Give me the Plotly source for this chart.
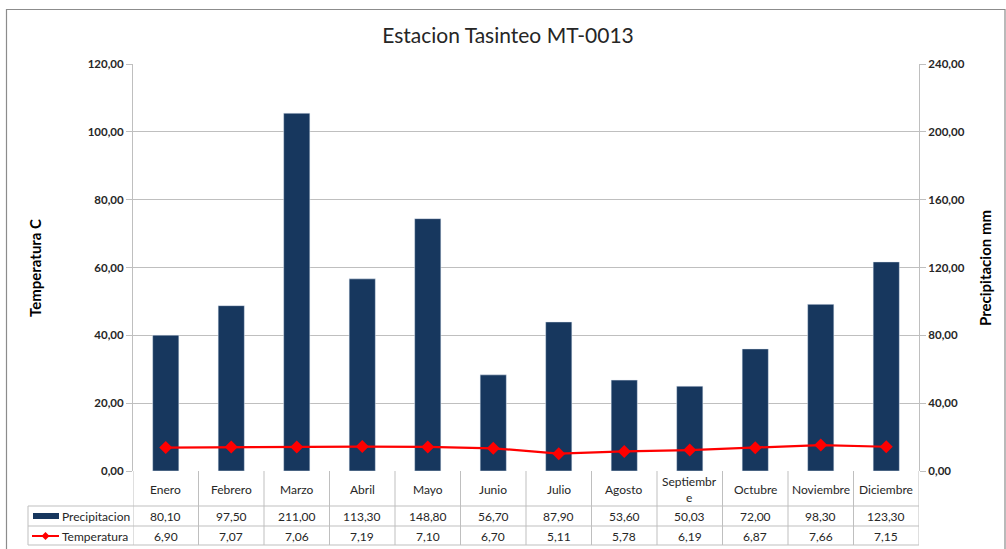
import plotly.graph_objects as go

months = ["Enero", "Febrero", "Marzo", "Abril", "Mayo", "Junio", "Julio",
          "Agosto", "Septiembre", "Octubre", "Noviembre", "Diciembre"]
month_labels = ["Enero", "Febrero", "Marzo", "Abril", "Mayo", "Junio", "Julio",
                "Agosto", "Septiembr<br>e", "Octubre", "Noviembre", "Diciembre"]
precipitacion = [80.10, 97.50, 211.00, 113.30, 148.80, 56.70, 87.90,
                 53.60, 50.03, 72.00, 98.30, 123.30]
temperatura = [6.90, 7.07, 7.06, 7.19, 7.10, 6.70, 5.11, 5.78, 6.19, 6.87, 7.66, 7.15]

W, H = 1006, 549
L, R, T, B = 133, 919, 64, 471
FONT = "Lato"
BAR = "#17375E"
RED = "#FF0000"
GRID = "#BFBFBF"

def px(x):
    return (x - L) / (R - L)

def py(y):
    return (B - y) / (B - T)

def fmt(v):
    return f"{v:.2f}".replace(".", ",")

idx = list(range(len(months)))

fig = go.Figure()
fig.add_trace(go.Bar(x=idx, y=precipitacion, name="Precipitacion", marker_color=BAR,
                     yaxis="y", showlegend=False))
fig.add_trace(go.Scatter(x=idx, y=temperatura, name="Temperatura", mode="lines+markers",
                         line=dict(color=RED, width=2.25),
                         marker=dict(symbol="diamond", size=10, color=RED),
                         yaxis="y2", showlegend=False))

shapes = []
annotations = []

# outer chart border
shapes.append(dict(type="rect", xref="paper", yref="paper", x0=px(6.5), x1=px(1005),
                   y0=py(560), y1=py(9.5), line=dict(color="#8C8C8C", width=1.2),
                   fillcolor="rgba(0,0,0,0)", layer="below"))

# table lines
n = len(months)
for k in range(n + 1):
    shapes.append(dict(type="line", xref="x", yref="paper", x0=k - 0.5, x1=k - 0.5,
                       y0=py(471), y1=py(545), line=dict(color=GRID, width=1)))
for yy in (506, 526, 545):
    shapes.append(dict(type="line", xref="paper", yref="paper", x0=px(28), x1=px(919),
                       y0=py(yy), y1=py(yy), line=dict(color=GRID, width=1)))
shapes.append(dict(type="line", xref="paper", yref="paper", x0=px(28), x1=px(28),
                   y0=py(506), y1=py(545), line=dict(color=GRID, width=1)))

# legend keys inside table
shapes.append(dict(type="rect", xref="paper", yref="paper", x0=px(33), x1=px(59),
                   y0=py(519), y1=py(513), fillcolor=BAR, line=dict(width=0)))
shapes.append(dict(type="line", xref="paper", yref="paper", x0=px(32), x1=px(59),
                   y0=py(536), y1=py(536), line=dict(color=RED, width=2)))
shapes.append(dict(type="path", xref="paper", yref="paper",
                   path=f"M {px(45.5)} {py(532)} L {px(49.5)} {py(536)} L {px(45.5)} {py(540)} L {px(41.5)} {py(536)} Z",
                   fillcolor=RED, line=dict(color=RED, width=0)))

tfont = dict(family=FONT, size=12, color="#262626")
for i in idx:
    annotations.append(dict(x=i, xref="x", y=py(489), yref="paper", text=month_labels[i],
                            showarrow=False, font=tfont, yanchor="middle"))
    annotations.append(dict(x=i, xref="x", y=py(516), yref="paper", text=fmt(precipitacion[i]),
                            showarrow=False, font=tfont, yanchor="middle"))
    annotations.append(dict(x=i, xref="x", y=py(536), yref="paper", text=fmt(temperatura[i]),
                            showarrow=False, font=tfont, yanchor="middle"))

annotations.append(dict(x=px(60), y=py(516), xref="paper", yref="paper", text="Precipitacion",
                        showarrow=False, font=tfont, xanchor="left", yanchor="middle"))
annotations.append(dict(x=px(60), y=py(536), xref="paper", yref="paper", text="Temperatura",
                        showarrow=False, font=tfont, xanchor="left", yanchor="middle"))

# axis titles
annotations.append(dict(x=px(35), y=py(268), xref="paper", yref="paper", text="<b>Temperatura C</b>",
                        textangle=-90, showarrow=False, xanchor="center", yanchor="middle",
                        font=dict(family=FONT, size=15, color="#000000")))
annotations.append(dict(x=px(985), y=py(268), xref="paper", yref="paper", text="<b>Precipitacion mm</b>",
                        textangle=-90, showarrow=False, xanchor="center", yanchor="middle",
                        font=dict(family=FONT, size=15, color="#000000")))

tickfont = dict(family=FONT, size=11.5, color="#262626", weight="bold")
fig.update_layout(
    width=W, height=H,
    margin=dict(l=L, r=W - R, t=T, b=H - B, autoexpand=False),
    paper_bgcolor="white", plot_bgcolor="white",
    separators=",.",
    bargap=0.6,
    title=dict(text="Estacion Tasinteo MT-0013", x=508 / W, xanchor="center",
               y=1 - 36 / H, yanchor="middle",
               font=dict(family=FONT, size=21, color="#262626")),
    xaxis=dict(range=[-0.5, n - 0.5], showticklabels=False, showgrid=False,
               zeroline=False, showline=False, ticks=""),
    yaxis=dict(side="right", range=[0, 240], dtick=40, tickformat=".2f",
               showgrid=True, gridcolor=GRID, gridwidth=1, zeroline=False,
               showline=True, linecolor=GRID, linewidth=1,
               ticks="outside", ticklen=6, tickcolor=GRID, tickfont=tickfont),
    yaxis2=dict(side="left", overlaying="y", range=[0, 120], dtick=20, tickformat=".2f",
                showgrid=False, zeroline=False,
                showline=True, linecolor=GRID, linewidth=1,
                ticks="outside", ticklen=6, tickcolor=GRID, tickfont=tickfont),
    shapes=shapes,
    annotations=annotations,
)

fig.write_html("out.html", config={"displayModeBar": False},
               post_script="document.body.style.margin='0';document.body.style.overflow='hidden';")
